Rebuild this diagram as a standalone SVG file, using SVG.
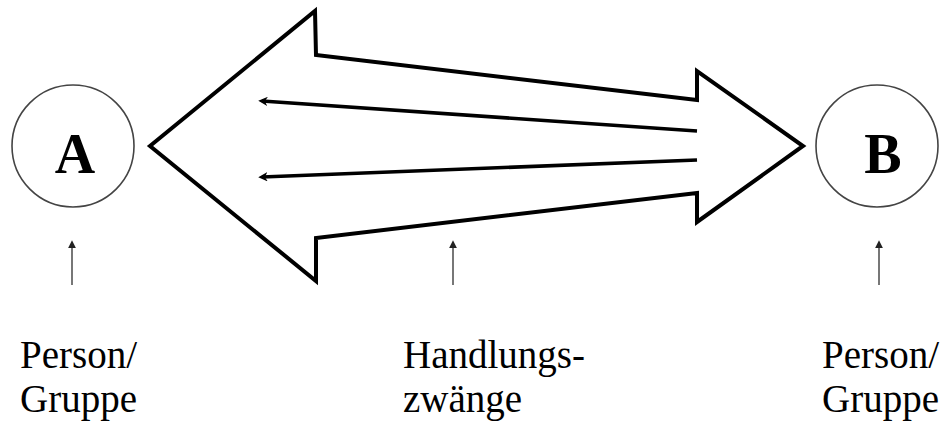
<svg xmlns="http://www.w3.org/2000/svg" width="949" height="422" viewBox="0 0 949 422">
<style>
.big{fill:#fff;stroke:#000;stroke-width:4;stroke-linejoin:miter}
.inner{stroke:#000;stroke-width:3.6;fill:none}
.node{fill:#fff;stroke:#444;stroke-width:1.6}
.letter{font-family:"Liberation Serif",serif;font-weight:bold;font-size:56px;fill:#000;text-anchor:middle}
.lbl{font-family:"Liberation Serif",serif;font-size:39px;fill:#000}
.pointer{stroke:#555;stroke-width:1.6;fill:none}
</style>
<defs>
<marker id="ah" viewBox="0 0 10 10" refX="6" refY="5" markerWidth="2.6" markerHeight="2.6" orient="auto" markerUnits="strokeWidth">
<path d="M10,5 L0,0 L3,5 L0,10 Z" fill="#000"/>
</marker>
<marker id="up" viewBox="0 0 10 10" refX="4" refY="5" markerWidth="5" markerHeight="5" orient="auto" markerUnits="strokeWidth">
<path d="M10,5 L0,0 L0,10 Z" fill="#222"/>
</marker>
</defs>
<g id="connectors">
<polygon class="big" points="150,146 315,11 316,55 697,100 697,71 803,146 697,222 697,193 316,238 316,281"/>
<line class="inner" x1="697" y1="131" x2="262" y2="101" marker-end="url(#ah)"/>
<line class="inner" x1="697" y1="160" x2="262" y2="177" marker-end="url(#ah)"/>
<line class="pointer" x1="72" y1="285" x2="72" y2="245" marker-end="url(#up)"/>
<line class="pointer" x1="453" y1="285" x2="453" y2="245" marker-end="url(#up)"/>
<line class="pointer" x1="879" y1="285" x2="879" y2="245" marker-end="url(#up)"/>
</g>
<g id="nodeA">
<circle class="node" cx="73" cy="146" r="61"/>
<text class="letter" x="75" y="173">A</text>
</g>
<g id="nodeB">
<circle class="node" cx="877" cy="146" r="61"/>
<text class="letter" x="883" y="173">B</text>
</g>
<g id="labelA">
<text class="lbl" x="20" y="368">Person/</text>
<text class="lbl" x="20" y="412">Gruppe</text>
</g>
<g id="labelMid">
<text class="lbl" x="403" y="368">Handlungs-</text>
<text class="lbl" x="403" y="412">zwänge</text>
</g>
<g id="labelB">
<text class="lbl" x="822" y="368">Person/</text>
<text class="lbl" x="822" y="412">Gruppe</text>
</g>
</svg>
